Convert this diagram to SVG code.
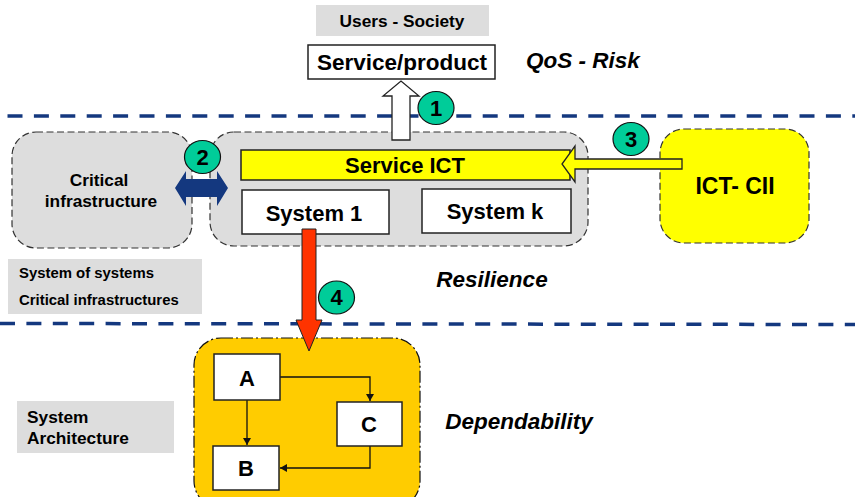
<svg xmlns="http://www.w3.org/2000/svg" width="855" height="497" viewBox="0 0 855 497">
<style>
text{font-family:"Liberation Sans",Arial,sans-serif;font-weight:bold;fill:#000;text-anchor:middle}
.lab{fill:#ddd}
.box{fill:#fff;stroke:#222;stroke-width:1.5}
.rule{fill:none;stroke:#14387f;stroke-width:3.5;stroke-dasharray:15 11.4}
.region{stroke:#333;stroke-width:1.2;stroke-dasharray:7 3.5}
.badge{fill:#00cc99;stroke:#111;stroke-width:1.2}
.ital{font-style:italic;font-size:22.500px}
.wire{fill:none;stroke:#111;stroke-width:1.3}
.arrow{stroke:#222;stroke-width:1.3}
.big{font-size:22px}
.mid{font-size:17.300px}
.small{font-size:14.900px}
.left{text-anchor:start}
</style>
<defs>
<marker id="tip" markerUnits="userSpaceOnUse" markerWidth="9" markerHeight="9" refX="7" refY="4" orient="auto"><path d="M0 0L7 4L0 8z" fill="#111"/></marker>
</defs>
<g id="rules">
<path class="rule" d="M7.500 116H855"/>
<path class="rule" d="M0 323.500L855 324.500"/>
</g>
<g id="users"><rect class="lab" x="316" y="5" width="173" height="31"/><text class="mid" x="402" y="27">Users - Society</text></g>
<g id="service-product"><rect class="box" x="308" y="45" width="187" height="34"/><text class="big" x="402" y="70" style="font-size:22.500px">Service/product</text></g>
<text class="ital" x="583" y="68">QoS - Risk</text>
<g id="critical-infrastructure"><rect class="region" x="12" y="132" width="180" height="116" rx="24" fill="#ddd"/><text class="mid" x="99" y="186">Critical</text><text class="mid" x="101" y="207">infrastructure</text></g>
<g id="service-region"><rect class="region" x="210" y="132" width="378" height="114" rx="24" fill="#ddd"/></g>
<g id="service-ict"><rect class="box" x="241" y="150" width="329" height="30" style="fill:#ff0"/><text class="big" x="405" y="173">Service ICT</text></g>
<g id="system-1"><rect class="box" x="242" y="190" width="147" height="44"/><text class="big" x="314" y="221">System 1</text></g>
<g id="system-k"><rect class="box" x="422" y="189" width="149" height="44"/><text class="big" x="495" y="219">System k</text></g>
<g id="ict-cii"><rect class="region" x="660" y="129" width="149" height="114" rx="24" fill="#ff0"/><text class="big" x="735" y="194" style="font-size:23px">ICT- CII</text></g>
<g id="lab-sos"><rect class="lab" x="8" y="259" width="194" height="55"/><text class="small left" x="19" y="278">System of systems</text><text class="small left" x="19" y="305">Critical infrastructures</text></g>
<text class="ital" x="492" y="287">Resilience</text>
<g id="architecture"><rect x="194" y="338" width="226" height="170" rx="27" fill="#fc0" stroke="#111" stroke-width="1.200" stroke-dasharray="12 3 2 3"/></g>
<g id="lab-arch"><rect class="lab" x="17" y="401" width="157" height="52"/><text class="mid left" x="27" y="423">System</text><text class="mid left" x="27" y="444">Architecture</text></g>
<text class="ital" x="519" y="429">Dependability</text>
<g id="connectors">
<path class="arrow" fill="#fff" d="M392 140V96H383L401 81L419 96H410V140z"/>
<path class="arrow" fill="#ff0" d="M682 159V169H575V182L562 164L575 146V159z"/>
<path fill="#14387f" d="M175 188L186 171V179H217V171L228 188L217 206V197H186V206z"/>
<path d="M302 229H316V320H322L309 351L296 320H302z" fill="#f30" stroke="#222" stroke-width="1"/>
<path class="wire" marker-end="url(#tip)" d="M247 400V445"/>
<path class="wire" marker-end="url(#tip)" d="M280 377H370V401"/>
<path class="wire" marker-end="url(#tip)" d="M370 446V468H280"/>
</g>
<g id="node-a"><rect class="box" x="214" y="354" width="66" height="46"/><text class="big" x="247" y="386">A</text></g>
<g id="node-c"><rect class="box" x="337" y="402" width="65" height="44"/><text class="big" x="369" y="432">C</text></g>
<g id="node-b"><rect class="box" x="213" y="446" width="66" height="44"/><text class="big" x="246" y="476">B</text></g>
<g id="badge-1"><ellipse class="badge" cx="436" cy="108" rx="18" ry="16.500"/><text class="big" x="436" y="116">1</text></g>
<g id="badge-2"><ellipse class="badge" cx="202.500" cy="157" rx="18" ry="16.500"/><text class="big" x="202.500" y="165">2</text></g>
<g id="badge-3"><ellipse class="badge" cx="631" cy="139" rx="18" ry="16.500"/><text class="big" x="631" y="147">3</text></g>
<g id="badge-4"><ellipse class="badge" cx="336.500" cy="297.500" rx="18" ry="16.500"/><text class="big" x="336.500" y="305">4</text></g>
</svg>
